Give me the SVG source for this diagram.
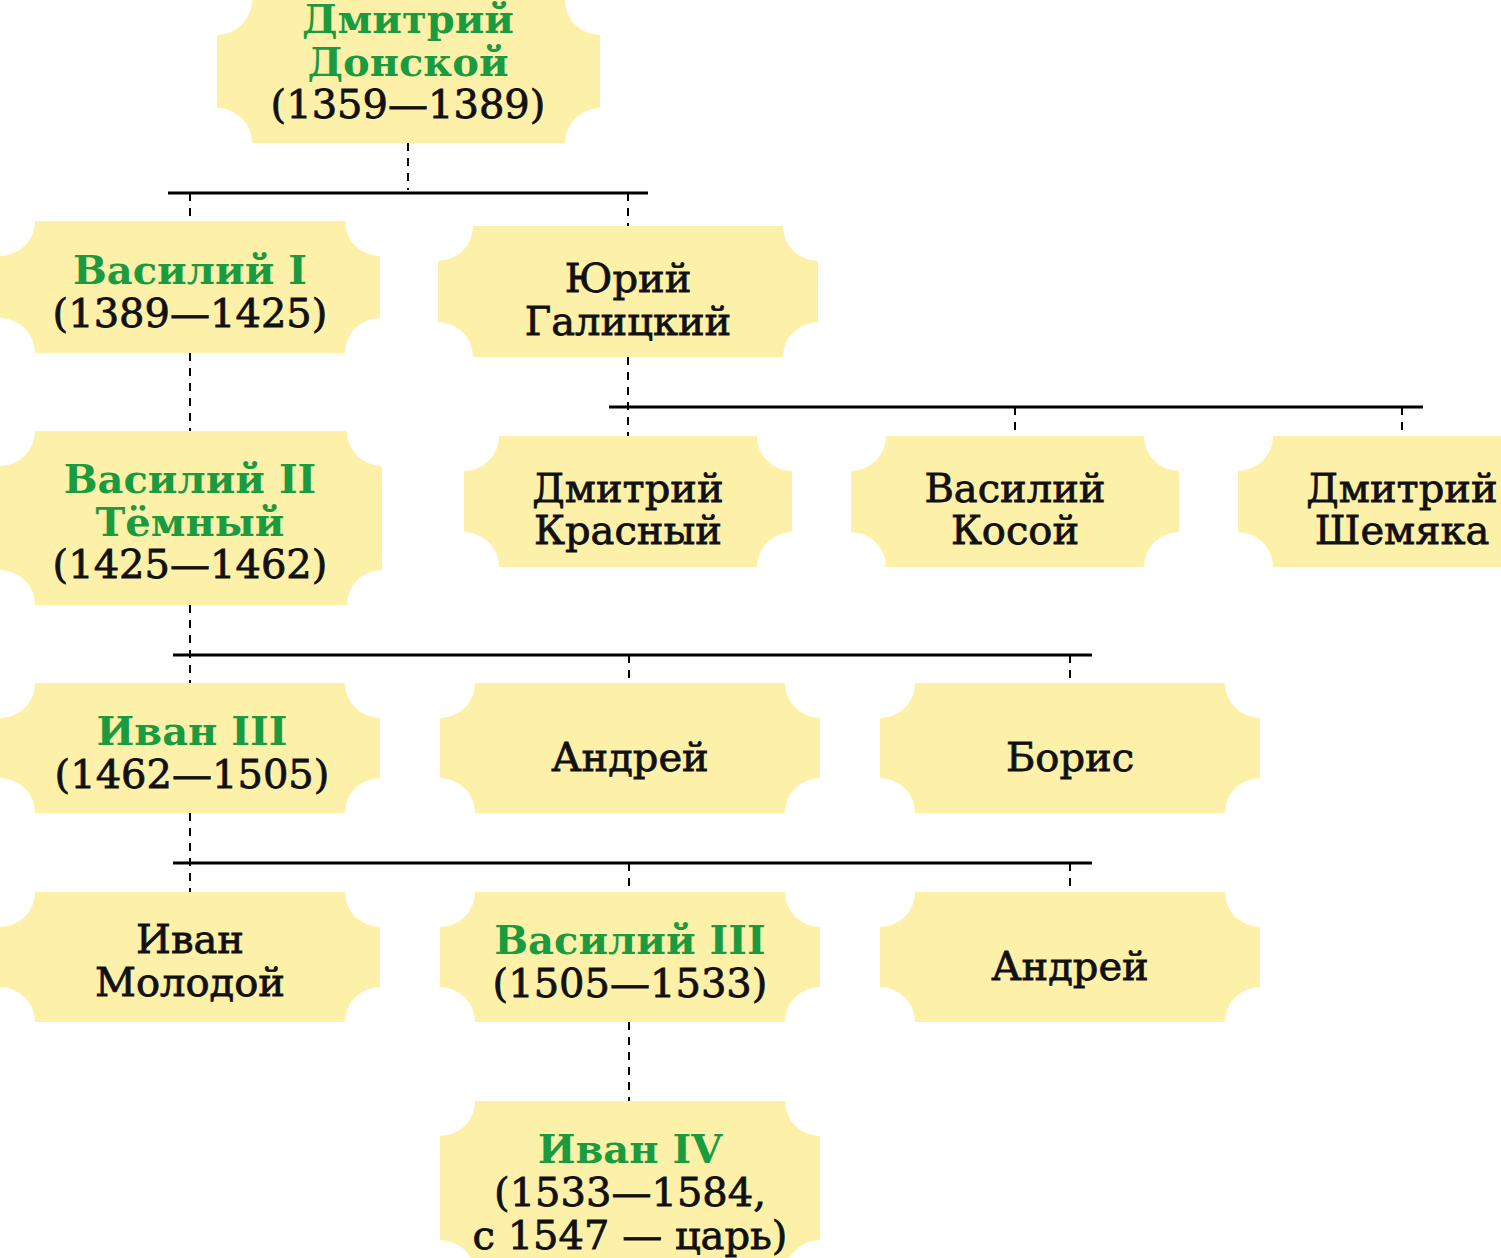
<svg xmlns="http://www.w3.org/2000/svg" width="1501" height="1258" viewBox="0 0 1501 1258">
<style>
.n{fill:#fdf0a8}
text{font-family:"DejaVu Serif","Liberation Serif",serif;font-size:40px;text-anchor:middle;fill:#111;stroke:#111;stroke-width:0.8}
.g{fill:#1a9b3f;stroke:none;font-weight:bold}
.s{stroke:#000;stroke-width:3;fill:none}
.d{stroke:#000;stroke-width:2;stroke-dasharray:8,7;fill:none}
</style>
<g id="connectors">
<path class="s" d="M168 193H648M609 407H1423M173 655H1092M173 863H1092"/>
<path class="d" d="M408 143V190M190 193V221M628 193V226M628 357V436M1015 407V436M1402 407V436M190 353V431M190 605V683M629 655V683M1070 655V683M190 813V892M629 863V892M1070 863V892M629 1022V1101"/>
</g>
<g id="n1"><path class="n" d="M252 0H565A35 35 0 0 0 600 35V108A35 35 0 0 0 565 143H252A35 35 0 0 0 217 108V35A35 35 0 0 0 252 0Z"/><text class="g" x="408" y="33">Дмитрий</text><text class="g" x="408" y="76">Донской</text><text x="408" y="118">(1359—1389)</text></g>
<g id="n2"><path class="n" d="M35 221H345A35 35 0 0 0 380 256V318A35 35 0 0 0 345 353H35A35 35 0 0 0 0 318V256A35 35 0 0 0 35 221Z"/><text class="g" x="190" y="284">Василий I</text><text x="190" y="327">(1389—1425)</text></g>
<g id="n3"><path class="n" d="M473 226H783A35 35 0 0 0 818 261V322A35 35 0 0 0 783 357H473A35 35 0 0 0 438 322V261A35 35 0 0 0 473 226Z"/><text x="628" y="292">Юрий</text><text x="628" y="335">Галицкий</text></g>
<g id="n4"><path class="n" d="M35 431H347A35 35 0 0 0 382 466V570A35 35 0 0 0 347 605H35A35 35 0 0 0 0 570V466A35 35 0 0 0 35 431Z"/><text class="g" x="190" y="493">Василий II</text><text class="g" x="190" y="536">Тёмный</text><text x="190" y="578">(1425—1462)</text></g>
<g id="n5"><path class="n" d="M499 436H757A35 35 0 0 0 792 471V532A35 35 0 0 0 757 567H499A35 35 0 0 0 464 532V471A35 35 0 0 0 499 436Z"/><text x="628" y="502">Дмитрий</text><text x="628" y="544">Красный</text></g>
<g id="n6"><path class="n" d="M886 436H1144A35 35 0 0 0 1179 471V532A35 35 0 0 0 1144 567H886A35 35 0 0 0 851 532V471A35 35 0 0 0 886 436Z"/><text x="1015" y="502">Василий</text><text x="1015" y="544">Косой</text></g>
<g id="n7"><path class="n" d="M1273 436H1531A35 35 0 0 0 1566 471V532A35 35 0 0 0 1531 567H1273A35 35 0 0 0 1238 532V471A35 35 0 0 0 1273 436Z"/><text x="1402" y="502">Дмитрий</text><text x="1402" y="544">Шемяка</text></g>
<g id="n8"><path class="n" d="M35 683H345A35 35 0 0 0 380 718V778A35 35 0 0 0 345 813H35A35 35 0 0 0 0 778V718A35 35 0 0 0 35 683Z"/><text class="g" x="192" y="745">Иван III</text><text x="192" y="788">(1462—1505)</text></g>
<g id="n9"><path class="n" d="M475 683H785A35 35 0 0 0 820 718V778A35 35 0 0 0 785 813H475A35 35 0 0 0 440 778V718A35 35 0 0 0 475 683Z"/><text x="630" y="771">Андрей</text></g>
<g id="n10"><path class="n" d="M915 683H1225A35 35 0 0 0 1260 718V778A35 35 0 0 0 1225 813H915A35 35 0 0 0 880 778V718A35 35 0 0 0 915 683Z"/><text x="1070" y="771">Борис</text></g>
<g id="n11"><path class="n" d="M35 892H345A35 35 0 0 0 380 927V987A35 35 0 0 0 345 1022H35A35 35 0 0 0 0 987V927A35 35 0 0 0 35 892Z"/><text x="190" y="953">Иван</text><text x="190" y="996">Молодой</text></g>
<g id="n12"><path class="n" d="M475 892H785A35 35 0 0 0 820 927V987A35 35 0 0 0 785 1022H475A35 35 0 0 0 440 987V927A35 35 0 0 0 475 892Z"/><text class="g" x="630" y="954">Василий III</text><text x="630" y="997">(1505—1533)</text></g>
<g id="n13"><path class="n" d="M915 892H1225A35 35 0 0 0 1260 927V987A35 35 0 0 0 1225 1022H915A35 35 0 0 0 880 987V927A35 35 0 0 0 915 892Z"/><text x="1070" y="980">Андрей</text></g>
<g id="n14"><path class="n" d="M475 1101H785A35 35 0 0 0 820 1136V1240A35 35 0 0 0 785 1275H475A35 35 0 0 0 440 1240V1136A35 35 0 0 0 475 1101Z"/><text class="g" x="630" y="1163">Иван IV</text><text x="630" y="1206">(1533—1584,</text><text x="630" y="1249">с 1547 — царь)</text></g>
</svg>
